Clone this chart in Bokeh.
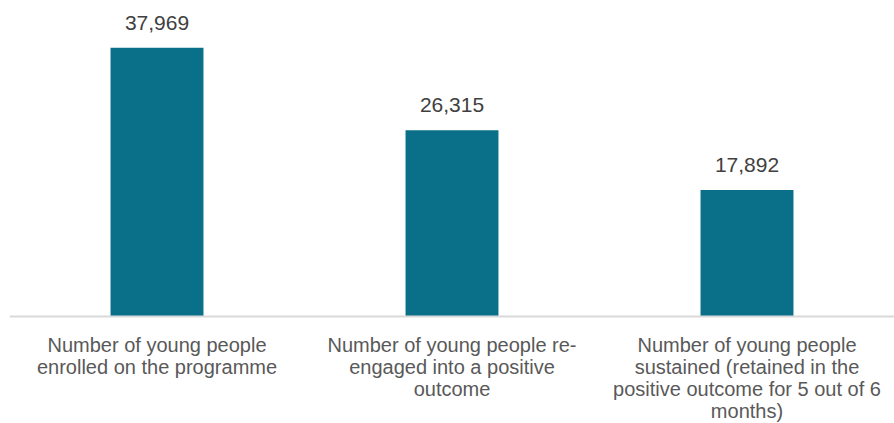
from bokeh.plotting import figure
from bokeh.models import FactorRange, Range1d, ColumnDataSource, Span
from bokeh.core.properties import value
from bokeh.embed import file_html
from bokeh.resources import INLINE

categories = [
    "Number of young people\nenrolled on the programme",
    "Number of young people re-\nengaged into a positive\noutcome",
    "Number of young people\nsustained (retained in the\npositive outcome for 5 out of 6\nmonths)",
]
values = [37969, 26315, 17892]
value_labels = ["37,969", "26,315", "17,892"]

FONT = "Liberation Sans"
BAR = "#0A6F89"

src = ColumnDataSource(dict(cat=categories, val=values, lab=value_labels,
                            zero=[0] * len(values)))

p = figure(
    width=894, height=423,
    x_range=FactorRange(*categories, range_padding=0),
    y_range=Range1d(-15124, 44664),
    output_backend="svg", toolbar_location=None,
    min_border=0, min_border_left=9,
    outline_line_color=None, background_fill_color="white", border_fill_color="white",
)
p.axis.visible = False
p.grid.grid_line_color = None

p.add_layout(Span(location=0, dimension="width", line_color="#D9D9D9", line_width=2))

p.vbar(x="cat", top="val", width=0.315, source=src, fill_color=BAR, line_color=None)
p.text(x="cat", y="val", text="lab", source=src, text_align="center",
       text_baseline="middle", y_offset=-25, text_font=value(FONT),
       text_font_size="21px", text_color="#404040")
p.text(x="cat", y="zero", text="cat", source=src, text_align="center",
       text_baseline="top", y_offset=18, text_font=value(FONT),
       text_font_size="20px", text_line_height=1.0, text_color="#595959")

open("out.html", "w").write(file_html(p, INLINE))
